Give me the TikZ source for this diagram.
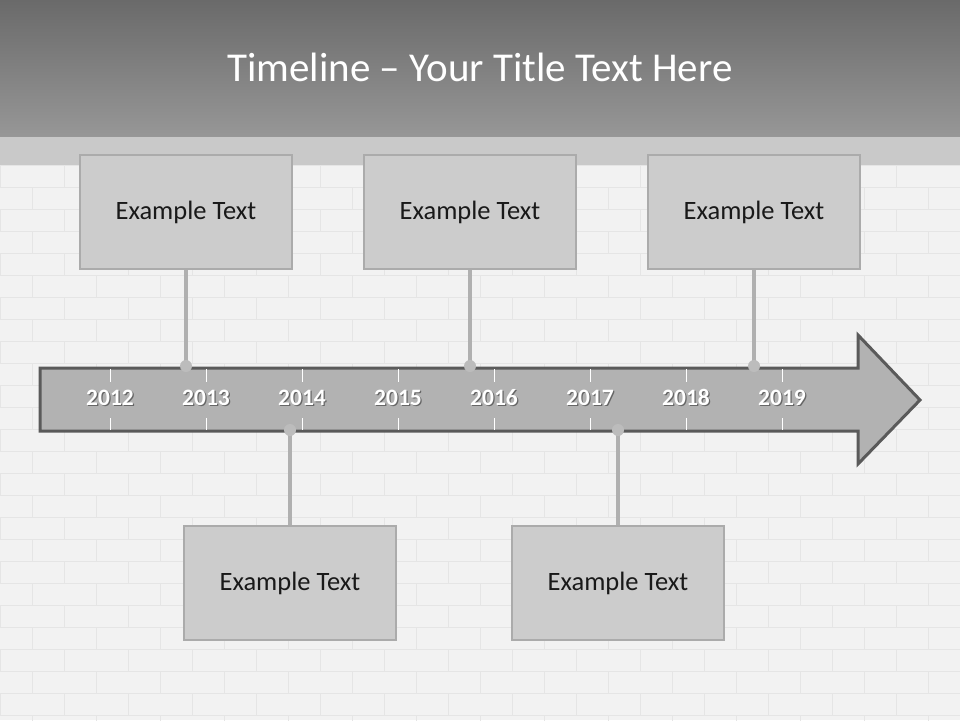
\documentclass[tikz,border=0pt]{standalone}
\usepackage{fontspec}
\setmainfont{Carlito}
\usepackage{tikz}
\usetikzlibrary{positioning}
\definecolor{barTop}{HTML}{6A6A6A}
\definecolor{barBottom}{HTML}{979797}
\definecolor{band}{HTML}{C9C9C9}
\definecolor{wall}{HTML}{F2F2F2}
\definecolor{brickLine}{HTML}{E5E5E5}
\definecolor{boxFill}{HTML}{CCCCCC}
\definecolor{boxLine}{HTML}{ABABAB}
\definecolor{arrowFill}{HTML}{B2B2B2}
\definecolor{arrowLine}{HTML}{5A5A5A}
\definecolor{stemGray}{HTML}{B0B0B0}
\begin{document}
\begin{tikzpicture}[x=1pt,y=-1pt,
    textbox/.style={draw=boxLine, fill=boxFill, line width=2.5pt,
        minimum width=212pt, minimum height=114pt,
        font=\fontsize{26.5}{30}\selectfont, text=black!90},
    year/.style={font=\bfseries\fontsize{23.5}{27}\selectfont, text=white, anchor=base},
    yearshadow/.style={font=\bfseries\fontsize{23.5}{27}\selectfont, text=black!60, anchor=base},
    tick/.style={white, line width=1pt},
    stem/.style={stemGray, line width=4.5pt},
    brick/.style={brickLine, line width=0.8pt}]
    \useasboundingbox (0,0) rectangle (960,720);
    % background
    \fill [wall] (0,0) rectangle (960,720);
    \foreach \r in {0,...,25} {
        \pgfmathsetmacro\yy{165+22*\r}
        \draw [brick] (0,\yy) -- (960,\yy);
        \foreach \c in {0,...,15} {
            \draw [brick] ({64*\c+32*mod(\r,2)},\yy) -- ++(0,22);
        }
    }
    \shade [top color=barTop, bottom color=barBottom] (0,0) rectangle (960,137);
    \fill [band] (0,137) rectangle (960,165);
    \node [text=white, font=\fontsize{41}{48}\selectfont] (title) at (480,67) {Timeline – Your Title Text Here};
    % arrow
    \draw [fill=arrowFill, draw=arrowLine, line width=3pt, line join=miter]
        (40,368) -- (858,368) -- (858,335) -- (920,400) -- (858,464) -- (858,431) -- (40,431) -- cycle;
    \foreach \yr [count=\i from 0] in {2012,...,2019} {
        \pgfmathsetmacro\xx{110+96*\i}
        \draw [tick] (\xx,369) -- (\xx,382);
        \draw [tick] (\xx,418) -- (\xx,430);
        \node [yearshadow] at (\xx+1.3,406.3) {\yr};
        \node [year] (y\yr) at (\xx,405) {\yr};
    }
    % event boxes
    \node [textbox] (ev1) at (186,212) {Example Text};
    \node [textbox] (ev2) at (470,212) {Example Text};
    \node [textbox] (ev3) at (754,212) {Example Text};
    \node [textbox] (ev4) at (290,583) {Example Text};
    \node [textbox] (ev5) at (618,583) {Example Text};
    % stems
    \coordinate (d1) at (186,366);
    \coordinate (d2) at (470,366);
    \coordinate (d3) at (754,366);
    \coordinate (d4) at (290,430);
    \coordinate (d5) at (618,430);
    \foreach \n/\a in {1/south,2/south,3/south,4/north,5/north} {
        \draw [stem] (ev\n.\a) -- (d\n);
        \fill [stemGray!85!white] (d\n) circle (6);
    }
\end{tikzpicture}
\end{document}
